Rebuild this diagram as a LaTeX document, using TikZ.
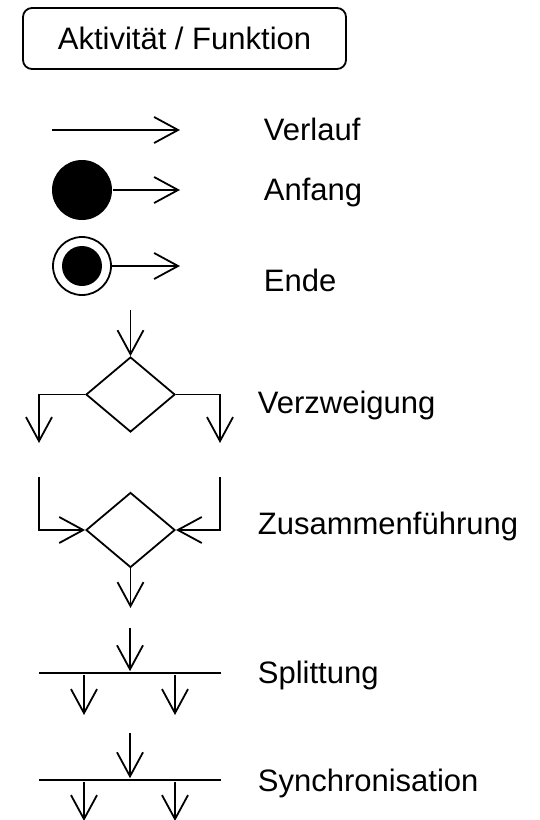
\documentclass[tikz,border=0pt]{standalone}
\usepackage{fontspec}
\setmainfont{Liberation Sans}
\usetikzlibrary{arrows.meta,shapes.geometric}
\begin{document}
\begin{tikzpicture}[x=1pt,y=-1pt,line width=1.8pt,
  flow/.style={-{Straight Barb[length=24pt,width=26pt]}},
  lbl/.style={anchor=base west,inner sep=0pt,font=\fontsize{31}{31}\selectfont},
  dia/.style={draw,diamond,inner sep=0pt,minimum width=89pt,minimum height=75pt},
  bar/.style={fill=black,draw=none,inner sep=0pt,minimum width=182pt,minimum height=1.8pt},
  startdot/.style={circle,fill=black,draw=none,inner sep=0pt,minimum size=60pt},
  endring/.style={circle,draw,inner sep=0pt,minimum size=58pt},
  enddot/.style={circle,fill=black,draw=none,inner sep=0pt,minimum size=40pt}]
\useasboundingbox (0,0) rectangle (539,820);

% Activity box
\node[draw,rounded corners=9pt,minimum width=323pt,minimum height=61pt,inner sep=0pt,
      font=\fontsize{31}{31}\selectfont] (act) at (184.5,38.5) {Aktivität / Funktion};

% Verlauf
\coordinate (v0) at (52,130);
\coordinate (v1) at (180,130);
\draw[flow] (v0) -- (v1);
\node[lbl] (tv) at (263,140) {Verlauf};

% Anfang
\node[startdot] (a) at (82,190) {};
\coordinate (a1) at (180,190);
\draw[flow] (a.east) -- (a1);
\node[lbl] (ta) at (263,200) {Anfang};

% Ende
\node[endring] (e) at (82,266) {};
\node[enddot] (ei) at (82,266) {};
\coordinate (e1) at (180,266);
\draw[flow] (e.east) -- (e1);
\node[lbl] (te) at (263,291) {Ende};

% Verzweigung
\node[dia] (d1) at (130.5,394.5) {};
\coordinate (d1in) at (130.5,310);
\coordinate (l1) at (39,443);
\coordinate (r1) at (220,443);
\draw[flow] (d1in) -- (d1.north);
\draw[flow] (d1.west) -| (l1);
\draw[flow] (d1.east) -| (r1);
\node[lbl] (tz) at (257,413) {Verzweigung};

% Zusammenfuehrung
\node[dia] (d2) at (130.5,530) {};
\coordinate (l2) at (39,477);
\coordinate (r2) at (220,477);
\coordinate (d2out) at (130.5,608);
\draw[flow] (l2) |- (d2.west);
\draw[flow] (r2) |- (d2.east);
\draw[flow] (d2.south) -- (d2out);
\node[lbl] (tzf) at (257,534) {Zusammenführung};

% Splittung
\node[bar] (b1) at (130,673) {};
\coordinate (b1in) at (130,628);
\coordinate (b1a) at (84,715);
\coordinate (b1b) at (175,715);
\draw[flow] (b1in) -- (b1.north);
\draw[flow] (b1.south -| b1a) -- (b1a);
\draw[flow] (b1.south -| b1b) -- (b1b);
\node[lbl] (ts) at (257,683) {Splittung};

% Synchronisation
\node[bar] (b2) at (130,780) {};
\coordinate (b2in) at (130,733);
\coordinate (b2a) at (84,821);
\coordinate (b2b) at (175,821);
\draw[flow] (b2in) -- (b2.north);
\draw[flow] (b2.south -| b2a) -- (b2a);
\draw[flow] (b2.south -| b2b) -- (b2b);
\node[lbl] (tsy) at (257,791) {Synchronisation};
\end{tikzpicture}
\end{document}
